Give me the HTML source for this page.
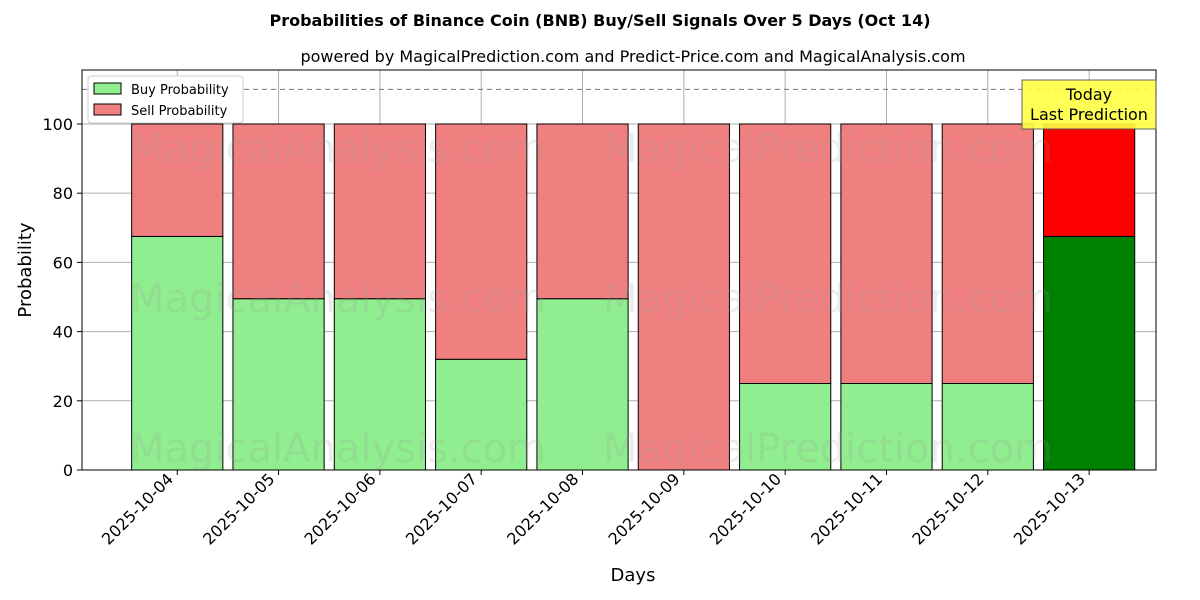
<!DOCTYPE html>
<html><head><meta charset="utf-8"><style>body{margin:0;background:#fff}svg{display:block;font-family:"DejaVu Sans","Liberation Sans",sans-serif}</style></head>
<body>
<svg id="chart" width="1200" height="600" xmlns="http://www.w3.org/2000/svg">
<text x="600" y="26" text-anchor="middle" font-size="16" font-weight="bold">Probabilities of Binance Coin (BNB) Buy/Sell Signals Over 5 Days (Oct 14)</text>
<text x="633" y="62" text-anchor="middle" font-size="16">powered by MagicalPrediction.com and Predict-Price.com and MagicalAnalysis.com</text>
<g id="grid"></g>
<g id="bars"></g>
<g id="wm" fill="#999" opacity="0.18" font-size="40"></g>
<line x1="82" x2="1156" id="dash" stroke="#777" stroke-dasharray="5,4"/>
<rect x="82" y="70" width="1074" height="400" fill="none" stroke="#000"/>
<g id="axes" font-size="16"></g>
<text x="633" y="581" text-anchor="middle" font-size="18">Days</text>
<text transform="translate(31,270) rotate(-90)" text-anchor="middle" font-size="18">Probability</text>
<g>
<rect x="88" y="76" width="155" height="47" fill="#fff" stroke="#ccc" rx="3"/>
<rect x="94" y="83" width="27" height="11" fill="#90ee90" stroke="#000"/>
<text x="131" y="94" font-size="13">Buy Probability</text>
<rect x="94" y="104" width="27" height="11" fill="#f08080" stroke="#000"/>
<text x="131" y="115" font-size="13">Sell Probability</text>
</g>
<g>
<rect x="1022" y="80" width="134" height="49" fill="#ffff44" stroke="#555" opacity="0.9"/>
<text x="1089" y="100" text-anchor="middle" font-size="16">Today</text>
<text x="1089" y="120" text-anchor="middle" font-size="16">Last Prediction</text>
</g>
</svg>
<script>
const categories=["2025-10-04","2025-10-05","2025-10-06","2025-10-07","2025-10-08","2025-10-09","2025-10-10","2025-10-11","2025-10-12","2025-10-13"];
const buyValues=[67.5,49.5,49.5,32,49.5,0,25,25,25,67.5];
const sellValues=[32.5,50.5,50.5,68,50.5,100,75,75,75,32.5];
const yTicks=[0,20,40,60,80,100];
const thresholdValue=110;
const NS="http://www.w3.org/2000/svg";
const X0=82,X1=1156,Y0=470,Y1=70,xmin=-0.94,xmax=9.66,ymin=0,ymax=115.6;
const xs=i=>X0+(i-xmin)/(xmax-xmin)*(X1-X0);
const ys=v=>Y0-(v-ymin)/(ymax-ymin)*(Y0-Y1);
function mk(tag,at,parent){const e=document.createElementNS(NS,tag);for(const k in at)e.setAttribute(k,at[k]);document.getElementById(parent).appendChild(e);return e;}
const bw=(xs(0.9)-xs(0));
yTicks.forEach(t=>{
 const l=mk('line',{x1:X0,x2:X1,y1:ys(t),y2:ys(t),stroke:'#b0b0b0'},'grid');
 
 
 mk('line',{x1:X0-5,x2:X0,y1:ys(t),y2:ys(t),stroke:'#000'},'axes');
 const tx=mk('text',{x:X0-9,y:ys(t)+6,'text-anchor':'end'},'axes');tx.textContent=t;
 
 
});
categories.forEach((c,i)=>{
 const cx=xs(i);
 const g=mk('line',{x1:cx,x2:cx,y1:Y1,y2:Y0,stroke:'#b0b0b0'},'grid');
 
 
 const last=i===categories.length-1;
 const b=mk('rect',{x:cx-bw/2,y:ys(buyValues[i]),width:bw,height:ys(0)-ys(buyValues[i]),fill:last?'#008000':'#90ee90',stroke:'#000'},'bars');
 
 
 const s=mk('rect',{x:cx-bw/2,y:ys(buyValues[i]+sellValues[i]),width:bw,height:ys(buyValues[i])-ys(buyValues[i]+sellValues[i]),fill:last?'#ff0000':'#f08080',stroke:'#000'},'bars');
 
 
 mk('line',{x1:cx,x2:cx,y1:Y0,y2:Y0+5,stroke:'#000'},'axes');
 const t=mk('text',{x:cx-3,y:Y0+10,'text-anchor':'end',transform:`rotate(-45 ${cx-3} ${Y0+10})`},'axes');t.textContent=c;
 
 
});
const d=document.getElementById('dash');d.setAttribute('y1',ys(thresholdValue));d.setAttribute('y2',ys(thresholdValue));
[[130,162],[130,312],[130,462]].forEach(([x,y])=>{
 [['MagicalAnalysis.com',x],['MagicalPrediction.com',x+473]].forEach(([s,xx])=>{
  const w=mk('text',{x:xx,y:y},'wm');w.textContent=s;
  
  
 });
});
</script>
</body></html>
